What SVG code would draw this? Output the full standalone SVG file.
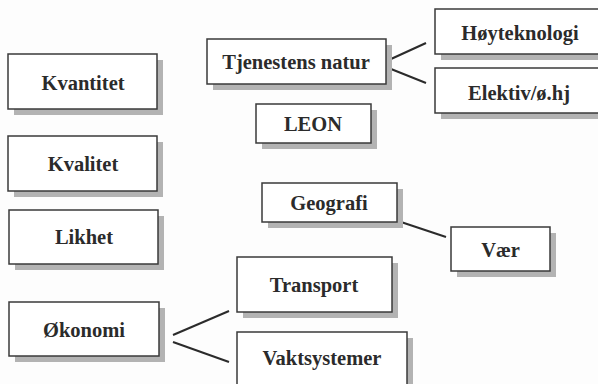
<svg xmlns="http://www.w3.org/2000/svg" width="598" height="384" viewBox="0 0 598 384">
<style>
.sh{fill:#b3b3b3}
.bx{fill:#ffffff;stroke:#3a3a3a;stroke-width:1.5}
.t{font-family:'Liberation Serif','Times New Roman',serif;font-weight:bold;font-size:20.5px;fill:#2b2b2b;text-anchor:middle}
.c{stroke:#2b2b2b;stroke-width:2;fill:none}
</style>
<rect width="598" height="384" fill="#fdfdfd"/>
<g id="connectors">
<line class="c" x1="391" y1="59" x2="426" y2="43"/>
<line class="c" x1="391" y1="69" x2="426" y2="83"/>
<line class="c" x1="401" y1="222" x2="446" y2="237"/>
<line class="c" x1="173" y1="335" x2="229" y2="311"/>
<line class="c" x1="173" y1="342" x2="229" y2="362"/>
</g>
<g id="kvantitet"><rect class="sh" x="14" y="60" width="149" height="55"/><rect class="bx" x="8" y="54" width="149" height="55"/><text class="t" x="83" y="90">Kvantitet</text></g>
<g id="kvalitet"><rect class="sh" x="14" y="142" width="149" height="55"/><rect class="bx" x="8" y="136" width="149" height="55"/><text class="t" x="83" y="171">Kvalitet</text></g>
<g id="likhet"><rect class="sh" x="15" y="216" width="149" height="54"/><rect class="bx" x="9" y="210" width="149" height="54"/><text class="t" x="84" y="244">Likhet</text></g>
<g id="okonomi"><rect class="sh" x="15" y="308" width="150" height="54"/><rect class="bx" x="9" y="302" width="150" height="54"/><text class="t" x="84" y="337">Økonomi</text></g>
<g id="tjenestens"><rect class="sh" x="213" y="45" width="179" height="45"/><rect class="bx" x="207" y="39" width="179" height="45"/><text class="t" x="296" y="69">Tjenestens natur</text></g>
<g id="leon"><rect class="sh" x="262" y="110" width="115" height="39"/><rect class="bx" x="256" y="104" width="115" height="39"/><text class="t" x="313" y="131">LEON</text></g>
<g id="hoyteknologi"><rect class="sh" x="441" y="15" width="170" height="45"/><rect class="bx" x="435" y="9" width="170" height="45"/><text class="t" x="520" y="40">Høyteknologi</text></g>
<g id="elektiv"><rect class="sh" x="441" y="74" width="170" height="45"/><rect class="bx" x="435" y="68" width="170" height="45"/><text class="t" x="519" y="100">Elektiv/ø.hj</text></g>
<g id="geografi"><rect class="sh" x="268" y="189" width="135" height="39"/><rect class="bx" x="262" y="183" width="135" height="39"/><text class="t" x="329" y="210">Geografi</text></g>
<g id="vaer"><rect class="sh" x="457" y="233" width="99" height="44"/><rect class="bx" x="451" y="227" width="99" height="44"/><text class="t" x="500.5" y="257">Vær</text></g>
<g id="transport"><rect class="sh" x="243" y="263" width="155" height="55"/><rect class="bx" x="237" y="257" width="155" height="55"/><text class="t" x="314" y="292">Transport</text></g>
<g id="vaktsystemer"><rect class="sh" x="243" y="338" width="170" height="60"/><rect class="bx" x="237" y="332" width="170" height="60"/><text class="t" x="322" y="365">Vaktsystemer</text></g>
</svg>
